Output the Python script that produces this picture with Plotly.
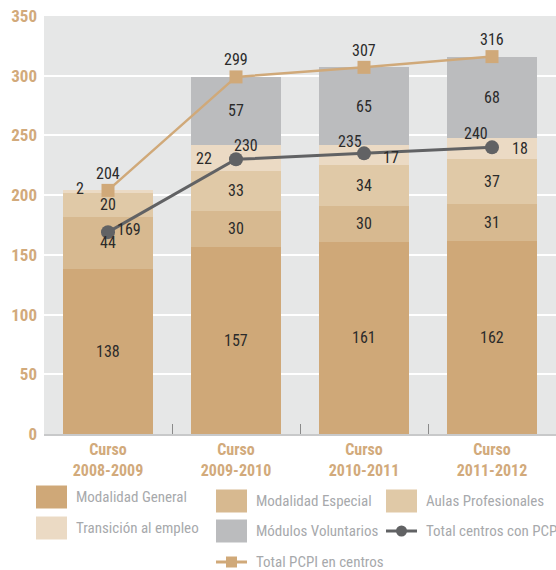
import plotly.graph_objects as go

# datos
cursos = ["Curso<br>2008-2009", "Curso<br>2009-2010", "Curso<br>2010-2011", "Curso<br>2011-2012"]
modalidad_general = [138, 157, 161, 162]
modalidad_especial = [44, 30, 30, 31]
aulas_profesionales = [20, 33, 34, 37]
transicion_empleo = [2, 22, 17, 18]
modulos_voluntarios = [0, 57, 65, 68]
total_centros = [169, 230, 235, 240]
total_pcpi = [204, 299, 307, 316]

FONT = "Liberation Sans Narrow, Roboto Condensed, Arial Narrow, Liberation Sans, sans-serif"
TAN = "#d2aa7b"
LABEL = "#2b2b2b"
LEGEND_TXT = "#a7a9ac"

series = [
    ("Modalidad General", modalidad_general, "#cfa878"),
    ("Modalidad Especial", modalidad_especial, "#d7b990"),
    ("Aulas Profesionales", aulas_profesionales, "#e0c9a7"),
    ("Transición al empleo", transicion_empleo, "#ebdac4"),
    ("Módulos Voluntarios", modulos_voluntarios, "#bbbcbe"),
]

# desplazamiento de las etiquetas de "Transición al empleo" (px)
trans_shift = [(-28, 3), (-32, 0), (27, -2), (28, 0)]
centros_shift = [(21, 3), (10, 14), (-14, 12), (-16, 14)]

fig = go.Figure()
annotations = []
base = [0] * len(cursos)
for name, vals, color in series:
    fig.add_trace(go.Bar(x=cursos, y=vals, name=name, marker=dict(color=color, line_width=0),
                         width=0.7, showlegend=False, hoverinfo="skip"))
    for i, v in enumerate(vals):
        if v > 0:
            dx, dy = trans_shift[i] if name == "Transición al empleo" else (0, 0)
            annotations.append(dict(x=cursos[i], y=base[i] + v / 2, text=str(v), showarrow=False,
                                    xshift=dx, yshift=dy, font=dict(size=16, color=LABEL)))
        base[i] += v

fig.add_trace(go.Scatter(x=cursos, y=total_pcpi, mode="lines+markers", name="Total PCPI en centros",
                         line=dict(color="#d0a979", width=2.5),
                         marker=dict(symbol="square", size=13, color="#d0a979"), showlegend=False))
fig.add_trace(go.Scatter(x=cursos, y=total_centros, mode="lines+markers", name="Total centros con PCPI",
                         line=dict(color="#616264", width=3),
                         marker=dict(symbol="circle", size=14, color="#616264"), showlegend=False))

for i, v in enumerate(total_pcpi):
    annotations.append(dict(x=cursos[i], y=v, text=str(v), showarrow=False, yshift=17,
                            font=dict(size=16, color=LABEL)))
for i, v in enumerate(total_centros):
    dx, dy = centros_shift[i]
    annotations.append(dict(x=cursos[i], y=v, text=str(v), showarrow=False, xshift=dx, yshift=dy,
                            font=dict(size=16, color=LABEL)))

# leyenda dibujada a mano (cuadros grandes como en el original)
L, T, W, H = 44, 16, 512, 418


def px(x, y):
    return (x - L) / W, (T + H - y) / H


legend_items = [
    ("Modalidad General", "box", "#cfa878", 36, 497),
    ("Transición al empleo", "box", "#ebdac4", 36, 528),
    ("Modalidad Especial", "box", "#d7b990", 216, 501),
    ("Módulos Voluntarios", "box", "#bbbcbe", 216, 531),
    ("Total PCPI en centros", "square", "#d0a979", 216, 562),
    ("Aulas Profesionales", "box", "#e0c9a7", 386, 501),
    ("Total centros con PCPI", "circle", "#616264", 386, 531),
]
shapes = []
for text, kind, color, x0, yc in legend_items:
    if kind == "box":
        a = px(x0, yc - 11.5)
        b = px(x0 + 31, yc + 11.5)
        shapes.append(dict(type="rect", xref="paper", yref="paper", x0=a[0], y0=b[1], x1=b[0], y1=a[1],
                           fillcolor=color, line_width=0, layer="above"))
    else:
        a = px(x0, yc)
        b = px(x0 + 31, yc)
        shapes.append(dict(type="line", xref="paper", yref="paper", x0=a[0], y0=a[1], x1=b[0], y1=b[1],
                           line=dict(color=color, width=3)))
        c0 = px(x0 + 10, yc - 5.5)
        c1 = px(x0 + 21, yc + 5.5)
        shapes.append(dict(type="circle" if kind == "circle" else "rect", xref="paper", yref="paper",
                           x0=c0[0], y0=c1[1], x1=c1[0], y1=c0[1], fillcolor=color, line_width=0))
    t = px(x0 + 38, yc)
    annotations.append(dict(xref="paper", yref="paper", x=t[0], y=t[1], text=text, showarrow=False,
                            xanchor="left", yanchor="middle", font=dict(size=15, color=LEGEND_TXT)))

fig.update_layout(
    width=556, height=570,
    margin=dict(l=L, r=0, t=T, b=570 - T - H),
    barmode="stack", bargap=0.3,
    plot_bgcolor="#e6e7e7", paper_bgcolor="white",
    font=dict(family=FONT),
    annotations=annotations, shapes=shapes,
    showlegend=False,
)
fig.update_xaxes(
    tickfont=dict(size=16, color=TAN, weight="bold"),
    ticks="inside", tickson="boundaries", ticklen=10, tickcolor="#8a8a8a", tickwidth=1,
    showline=True, linecolor="#c8c9ca", linewidth=2, showgrid=False,
)
fig.update_yaxes(
    range=[0, 350], dtick=50, tickfont=dict(size=17, color=TAN, weight="bold"),
    gridcolor="white", gridwidth=2, zeroline=False, ticks="", ticklabelstandoff=6,
)

fig.write_html("out.html", config={"displayModeBar": False},
               post_script="document.body.style.margin='0';")
